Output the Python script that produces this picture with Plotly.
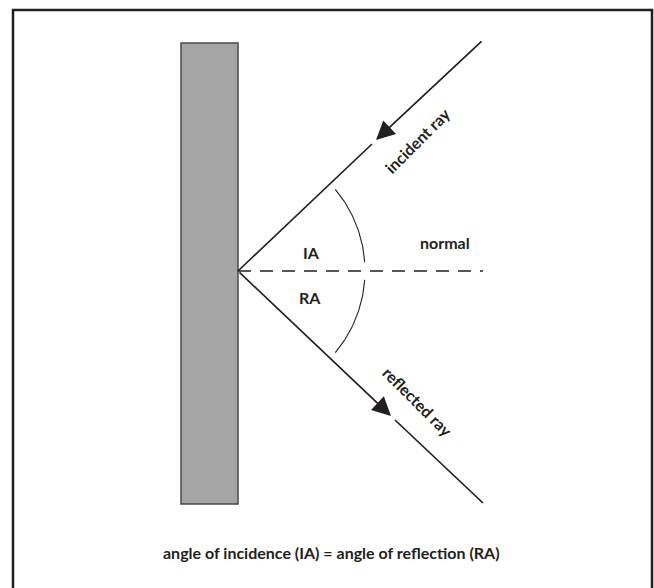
import plotly.graph_objects as go
import numpy as np

# ---- diagram data (pixel-space coordinates, y grows downward) ----
frame_x = [13, 652]
frame_y = [10, 600]
wall_x = [181, 238]
wall_y = [43, 504]
vertex = (238, 271)
incident_tail = (483, 40)
incident_tip = (376, 140)
incident_resume = (372, 144)
reflected_tail = (483, 503)
reflected_tip = (391, 416)
reflected_resume = (395, 420)
normal_end_x = 483
arc_radius = 127
arc_span_deg = [40, 4]  # outer and inner angle of each arc piece
labels = ["IA", "RA", "normal", "incident ray", "reflected ray"]
label_x = [311, 310, 445, 417, 418]
label_y = [252, 297, 242, 140, 401]
label_angle = [0, 0, 0, -45, 45]
caption = "angle of incidence (IA) = angle of reflection (RA)"
caption_xy = (331, 552)

INK = "#231f20"
FONT = "Lato, Roboto, sans-serif"
FONT_SIZE = 16

fig = go.Figure()

fig.add_trace(go.Scatter(x=[incident_resume[0], vertex[0]], y=[incident_resume[1], vertex[1]],
                         mode="lines", line=dict(color=INK, width=1.7), hoverinfo="skip"))
fig.add_trace(go.Scatter(x=[reflected_resume[0], reflected_tail[0]], y=[reflected_resume[1], reflected_tail[1]],
                         mode="lines", line=dict(color=INK, width=1.7), hoverinfo="skip"))
fig.add_trace(go.Scatter(x=[vertex[0], normal_end_x], y=[vertex[1], vertex[1]],
                         mode="lines", line=dict(color=INK, width=1.3, dash="13px,9px"), hoverinfo="skip"))
for sgn in (-1, 1):
    a = np.radians(np.linspace(arc_span_deg[1], arc_span_deg[0], 40)) * sgn
    fig.add_trace(go.Scatter(x=vertex[0] + arc_radius * np.cos(a), y=vertex[1] + arc_radius * np.sin(a),
                             mode="lines", line=dict(color=INK, width=1.1), hoverinfo="skip"))

shapes = [
    dict(type="rect", x0=frame_x[0], x1=frame_x[1], y0=frame_y[0], y1=frame_y[1],
         line=dict(color=INK, width=2.5), fillcolor="rgba(0,0,0,0)", layer="below"),
    dict(type="rect", x0=wall_x[0], x1=wall_x[1], y0=wall_y[0], y1=wall_y[1],
         line=dict(color="#4a4a4a", width=1.5), fillcolor="#a5a5a5", layer="below"),
]

annotations = [
    dict(x=incident_tip[0], y=incident_tip[1], ax=incident_tail[0], ay=incident_tail[1],
         xref="x", yref="y", axref="x", ayref="y", text="", showarrow=True,
         arrowhead=2, arrowsize=2.2, arrowwidth=1.7, arrowcolor=INK, standoff=0),
    dict(x=reflected_tip[0], y=reflected_tip[1], ax=vertex[0], ay=vertex[1],
         xref="x", yref="y", axref="x", ayref="y", text="", showarrow=True,
         arrowhead=2, arrowsize=2.2, arrowwidth=1.7, arrowcolor=INK, standoff=0),
]
for t, x, y, ang in zip(labels, label_x, label_y, label_angle):
    annotations.append(dict(x=x, y=y, xref="x", yref="y", text=t, showarrow=False,
                            textangle=ang, font=dict(family=FONT, size=FONT_SIZE, color=INK, weight=700)))
annotations.append(dict(x=caption_xy[0], y=caption_xy[1], xref="x", yref="y", text=caption,
                        showarrow=False, font=dict(family=FONT, size=FONT_SIZE, color=INK, weight=700)))

W, H = 654, 588
fig.update_layout(
    width=W, height=H, margin=dict(l=0, r=0, t=0, b=0),
    paper_bgcolor="white", plot_bgcolor="white", showlegend=False,
    xaxis=dict(range=[0, W], visible=False, fixedrange=True),
    yaxis=dict(range=[H, 0], visible=False, fixedrange=True),
    shapes=shapes, annotations=annotations,
)
fig.write_html(
    "out.html",
    config={"displayModeBar": False, "staticPlot": True},
    post_script="document.body.style.margin='0';document.body.style.overflow='hidden';",
)
